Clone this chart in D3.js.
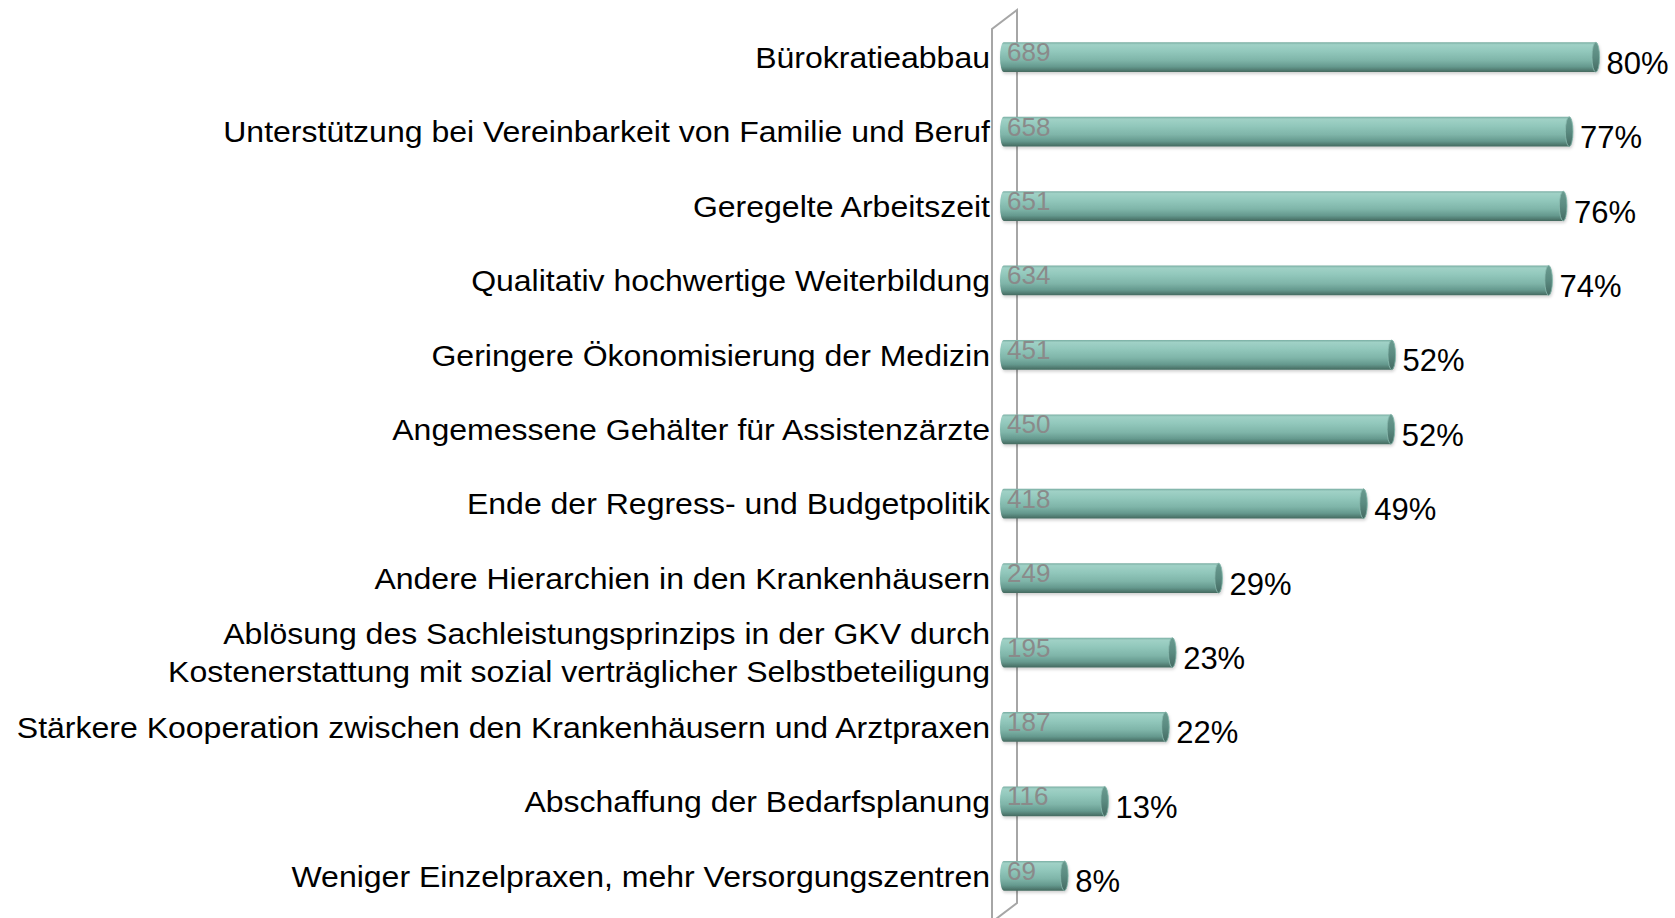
<!DOCTYPE html>
<html>
<head>
<meta charset="utf-8">
<script src="https://cdn.jsdelivr.net/npm/d3@7/dist/d3.min.js"></script>
<style>
  html, body { margin: 0; padding: 0; background: #fff; }
  svg { display: block; }
</style>
</head>
<body>
<svg id="chart" width="1675" height="918"></svg>
<script>
// Survey answers: which measures would make the profession more attractive
const categories = [
  "Bürokratieabbau",
  "Unterstützung bei Vereinbarkeit von Familie und Beruf",
  "Geregelte Arbeitszeit",
  "Qualitativ hochwertige Weiterbildung",
  "Geringere Ökonomisierung der Medizin",
  "Angemessene Gehälter für Assistenzärzte",
  "Ende der Regress- und Budgetpolitik",
  "Andere Hierarchien in den Krankenhäusern",
  "Ablösung des Sachleistungsprinzips in der GKV durch\nKostenerstattung mit sozial verträglicher Selbstbeteiligung",
  "Stärkere Kooperation zwischen den Krankenhäusern und Arztpraxen",
  "Abschaffung der Bedarfsplanung",
  "Weniger Einzelpraxen, mehr Versorgungszentren"
];
const counts   = [689, 658, 651, 634, 451, 450, 418, 249, 195, 187, 116, 69];
const percents = ["80%", "77%", "76%", "74%", "52%", "52%", "49%", "29%", "23%", "22%", "13%", "8%"];

const rows = categories.map((c, i) => ({ cat: c, n: counts[i], pct: percents[i] }));

const svg = d3.select("#chart");

const x = d3.scaleLinear().domain([0, 700]).range([1009, 1609]);
const y = d3.scaleBand().domain(categories).range([20, 913])
  .paddingInner(0.6).paddingOuter(0.3);

const defs = svg.append("defs");
const grad = defs.append("linearGradient")
  .attr("id", "cyl").attr("x1", 0).attr("y1", 0).attr("x2", 0).attr("y2", 1);
[[0, "#79ada2"], [0.08, "#a0d1c6"], [0.3, "#92c8bc"], [0.6, "#7fb5a9"],
 [0.82, "#65998e"], [1, "#44695f"]].forEach(([o, c]) =>
  grad.append("stop").attr("offset", o).attr("stop-color", c));

const capGrad = defs.append("linearGradient")
  .attr("id", "cap").attr("x1", 0).attr("y1", 0).attr("x2", 0).attr("y2", 1);
[[0, "#6a9b90"], [0.5, "#5a8a80"], [1, "#446a62"]].forEach(([o, c]) =>
  capGrad.append("stop").attr("offset", o).attr("stop-color", c));

const shadow = defs.append("filter").attr("id", "shadow")
  .attr("x", "-5%").attr("y", "-30%").attr("width", "110%").attr("height", "170%");
shadow.append("feDropShadow").attr("dx", 1).attr("dy", 2)
  .attr("stdDeviation", 1.5).attr("flood-color", "#000").attr("flood-opacity", 0.18);

// 3D side wall of the category axis
const x0 = x(0);
const depth = 25, rise = 19;
const wallFront = x0 - 17, wallBack = wallFront + depth;
svg.append("path")
  .attr("d", `M${wallFront},918 L${wallFront},${10 + rise} L${wallBack},10 L${wallBack},${918 - 15} L${wallFront},${918 - 15 + rise}`)
  .attr("fill", "none")
  .attr("stroke", "#a6a6a6")
  .attr("stroke-width", 2);

// Cylinder bars
const rx = 3.8;
const bars = svg.append("g").selectAll("g").data(rows).join("g");

bars.append("path")
  .attr("filter", "url(#shadow)")
  .attr("fill", "url(#cyl)")
  .attr("d", d => {
    const top = y(d.cat), h = y.bandwidth(), ry = h / 2;
    const left = x0 - 9, right = x(d.n);
    return `M${left + rx},${top} L${right - rx},${top}` +
      ` A${rx},${ry} 0 0 1 ${right - rx},${top + h}` +
      ` L${left + rx},${top + h}` +
      ` A${rx},${ry} 0 0 1 ${left + rx},${top} Z`;
  });

bars.append("ellipse")
  .attr("cx", d => x(d.n) - rx)
  .attr("cy", d => y(d.cat) + y.bandwidth() / 2)
  .attr("rx", rx)
  .attr("ry", y.bandwidth() / 2)
  .attr("fill", "url(#cap)")
  .attr("stroke", "#8abbb0")
  .attr("stroke-width", 0.8);

// Respondent counts inside the bars
bars.append("text")
  .attr("x", x0 - 2)
  .attr("y", d => y(d.cat) + y.bandwidth() / 2 + 4)
  .attr("font-family", "'Liberation Sans', Arial, sans-serif")
  .attr("font-size", 26)
  .attr("fill", "#8a8a8a")
  .text(d => d.n);

// Share labels at the bar ends
bars.append("text")
  .attr("x", d => x(d.n) + 7)
  .attr("y", d => y(d.cat) + y.bandwidth() / 2 + 16.5)
  .attr("font-family", "'Liberation Sans', Arial, sans-serif")
  .attr("font-size", 31)
  .attr("fill", "#000")
  .text(d => d.pct);

// Category labels, right aligned against the wall
const labelX = wallFront - 2;
const labels = svg.append("g").selectAll("g").data(rows).join("g")
  .attr("transform", d => `translate(${labelX},${y(d.cat) + y.bandwidth() / 2}) scale(1.067,1)`);

labels.each(function(d) {
  const lines = d.cat.split("\n");
  const g = d3.select(this);
  const lh = 38;
  lines.forEach((ln, i) => {
    const capCenter = (i - (lines.length - 1) / 2) * lh;
    g.append("text")
      .attr("x", 0)
      .attr("y", capCenter + 10.7)
      .attr("text-anchor", "end")
      .attr("font-family", "'Liberation Sans', Arial, sans-serif")
      .attr("font-size", 30)
      .attr("fill", "#000")
      .text(ln);
  });
});
</script>
</body>
</html>
